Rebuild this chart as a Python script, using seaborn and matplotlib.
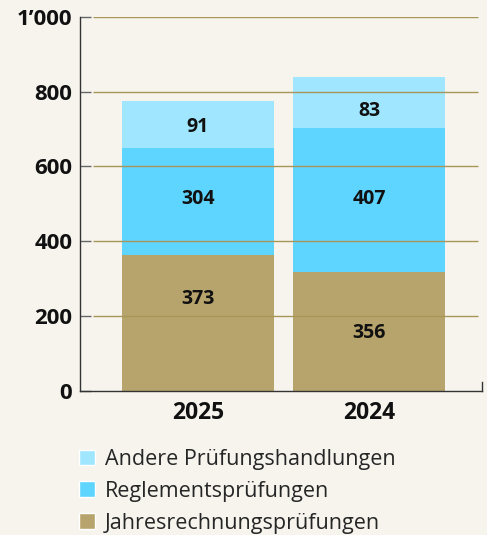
import matplotlib
matplotlib.use("Agg")
import matplotlib.pyplot as plt
from matplotlib.patches import Patch
import seaborn as sns

# categories (left to right as in the chart)
years = ["2025", "2024"]

# segment heights as drawn in the chart
jahres_height = [363, 318]
reglement_height = [286, 385]
andere_height = [126, 136]

# values printed on the segments
jahres_label = [373, 356]
reglement_label = [304, 407]
andere_label = [91, 83]

# where the printed values sit (y)
jahres_label_y = [246, 155]
reglement_label_y = [513, 513]
andere_label_y = [705, 748]

y_ticks = [0, 200, 400, 600, 800, 1000]
y_ticklabels = ["0", "200", "400", "600", "800", "1\u2019000"]

legend_names = ["Andere Prüfungshandlungen", "Reglementsprüfungen", "Jahresrechnungsprüfungen"]

c_andere = "#a0e6ff"
c_reglement = "#5dd5ff"
c_jahres = "#b7a46c"
bg = "#f7f4ee"

sns.set_style("ticks")
plt.rcParams["font.family"] = ["Open Sans", "DejaVu Sans"]

fig = plt.figure(figsize=(4.87, 5.35), dpi=100, facecolor=bg)
ax = fig.add_axes([80 / 487, 1 - 391 / 535, 402 / 487, 374.3 / 535])
ax.set_facecolor(bg)

bottom2 = [a + b for a, b in zip(jahres_height, reglement_height)]
bw = 0.889
sns.barplot(x=years, y=jahres_height, color=c_jahres, saturation=1, width=bw,
            errorbar=None, linewidth=0, ax=ax, zorder=2)
sns.barplot(x=years, y=reglement_height, bottom=jahres_height, color=c_reglement,
            saturation=1, width=bw, errorbar=None, linewidth=0, ax=ax, zorder=2)
sns.barplot(x=years, y=andere_height, bottom=bottom2, color=c_andere,
            saturation=1, width=bw, errorbar=None, linewidth=0, ax=ax, zorder=2)

# grid lines sit on top of the bars
ax.hlines(y_ticks[1:], -0.614, 1.637, colors="#a89658", lw=1.0, zorder=3)

for i in range(len(years)):
    for lab, yy in [(jahres_label[i], jahres_label_y[i]),
                    (reglement_label[i], reglement_label_y[i]),
                    (andere_label[i], andere_label_y[i])]:
        ax.text(i, yy, str(lab), ha="center", va="center", fontsize=14,
                fontweight="bold", color="#111111", zorder=4)

ax.set_xlim(-0.690, 1.661)
ax.set_ylim(0, 1000)
ax.set_yticks(y_ticks)
ax.set_yticklabels(y_ticklabels, fontsize=16, fontweight="bold", color="#111111")
ax.tick_params(axis="y", direction="in", length=8, width=1, color="#666666", pad=5.5)
ax.tick_params(axis="x", length=0, pad=7)
for t in ax.get_xticklabels():
    t.set_fontsize(16.5)
    t.set_fontweight("bold")
    t.set_color("#111111")
ax.set_xlabel("")
ax.set_ylabel("")

ax.spines["top"].set_visible(False)
ax.spines["right"].set_bounds(0, 25)
for s in ["left", "bottom", "right"]:
    ax.spines[s].set_color("#333333")
    ax.spines[s].set_linewidth(1.0)
ax.spines["right"].set_zorder(5)

handles = [Patch(facecolor=c_andere), Patch(facecolor=c_reglement), Patch(facecolor=c_jahres)]
fig.legend(handles, legend_names, loc="upper left", bbox_to_anchor=(79 / 487, 1 - 449 / 535),
           frameon=False, fontsize=15.5, handlelength=0.75, handleheight=0.75,
           handletextpad=0.45, labelspacing=0.5, borderaxespad=0, borderpad=0)

fig.savefig("out.png", dpi=100, facecolor=bg)
